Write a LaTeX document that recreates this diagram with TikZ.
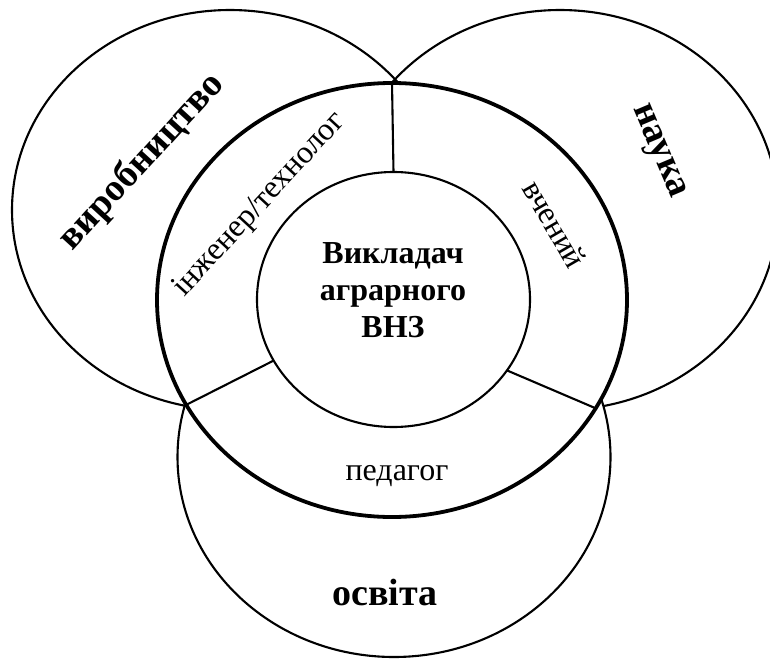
\documentclass[tikz,border=0pt]{standalone}
\usepackage{fontspec}
\setmainfont{Liberation Serif}
\usetikzlibrary{shapes.geometric}
\begin{document}
\begin{tikzpicture}[x=1pt,y=-1pt,
  circ/.style={ellipse, draw, line width=2.1pt, inner sep=0pt, outer sep=0pt},
  boldcirc/.style={ellipse, draw, line width=3.8pt, inner sep=0pt, outer sep=0pt, fill=white},
  divider/.style={line width=2.1pt},
  bigbold/.style={font=\fontsize{38}{44}\selectfont\bfseries, inner sep=0pt},
  rolelabel/.style={font=\fontsize{32}{37}\selectfont, inner sep=0pt},
  centerlabel/.style={font=\fontsize{32}{37}\selectfont\bfseries, align=center, inner sep=0pt}
]
\useasboundingbox (0,0) rectangle (770,661);
\clip (0,0) rectangle (770,661);
% outer circles
\node[circ, minimum width=436pt, minimum height=400pt] (prod) at (230,210) {};
\node[circ, minimum width=436pt, minimum height=400pt] (sci) at (560,210) {};
\node[circ, fill=white, minimum width=433pt, minimum height=400pt] (edu) at (394,457) {};
% teacher ring
\node[boldcirc, minimum width=470pt, minimum height=434pt] (ring) at (392,300) {};
\node[circ, fill=white, minimum width=273pt, minimum height=255pt] (core) at (393.5,299.5) {};
% dividers
\draw[divider] (core.north) -- (ring.north);
\draw[divider] (core.207.8) -- (ring.207.1);
\draw[divider] (core.328.4) -- (ring.332.2);
% labels
\node[bigbold, rotate=47.5] (lprod) at (142,162) {виробництво};
\node[bigbold, rotate=-67] (lsci) at (657,152) {наука};
\node[bigbold] (ledu) at (385,592) {освіта};
\node[rolelabel, rotate=47.3] (leng) at (260,205) {інженер/технолог};
\node[rolelabel, rotate=-60] (lsciist) at (555,224) {вчений};
\node[rolelabel] (lped) at (397,476) {педагог};
\node[centerlabel] (lcore) at (393,290) {Викладач\\аграрного\\ВНЗ};
\end{tikzpicture}
\end{document}
